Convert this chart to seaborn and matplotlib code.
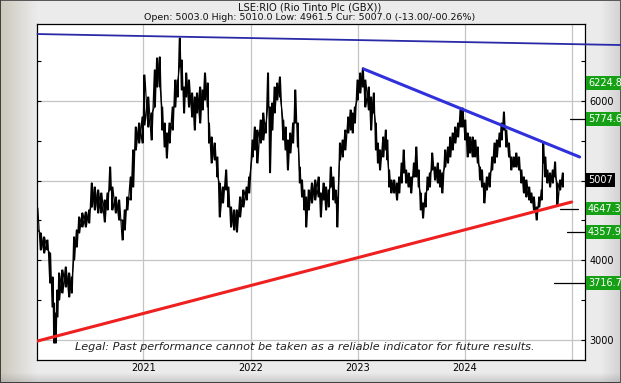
import numpy as np
import pandas as pd
import matplotlib
matplotlib.use("Agg")
import matplotlib.pyplot as plt
import matplotlib.transforms as mtransforms
from matplotlib.ticker import FixedLocator, FixedFormatter, NullFormatter
import seaborn as sns

# ---------------- data (decimal years, GBX) ----------------
t_2020 = [0.009, 0.040, 0.072, 0.103, 0.128, 0.150, 0.165, 0.180, 0.196, 0.212,
          0.243, 0.274, 0.306, 0.330, 0.352, 0.377, 0.399, 0.430, 0.461, 0.493,
          0.517, 0.545, 0.577, 0.607, 0.638, 0.664, 0.689, 0.710, 0.741, 0.773,
          0.804, 0.825, 0.850, 0.881, 0.904, 0.928, 0.960, 0.991]
hi_2020 = [4657, 4343, 4293, 4255, 4092, 3791, 3464, 3339, 3628, 3841,
           3879, 3916, 3841, 3791, 4293, 4381, 4544, 4594, 4607, 4632,
           4970, 4920, 4883, 4845, 4757, 4845, 5171, 4920, 4795, 4757,
           4506, 4632, 4795, 5046, 5385, 5673, 5723, 5799]
lo_2020 = [4381, 4130, 4092, 4130, 3715, 3414, 2962, 2962, 3289, 3502,
           3590, 3665, 3540, 3590, 4004, 4167, 4343, 4418, 4418, 4468,
           4669, 4632, 4594, 4594, 4481, 4632, 4883, 4632, 4594, 4506,
           4255, 4381, 4632, 4757, 4920, 5385, 5472, 5472]

t_2021 = [1.009, 1.045, 1.075, 1.106, 1.127, 1.152, 1.175, 1.197, 1.218, 1.243,
          1.273, 1.297, 1.318, 1.339, 1.357, 1.379, 1.400, 1.425, 1.455, 1.479,
          1.500, 1.530, 1.552, 1.575, 1.600, 1.612, 1.636, 1.666, 1.691, 1.712,
          1.743, 1.773, 1.794, 1.818, 1.848, 1.873, 1.903, 1.934, 1.964, 1.988]
hi_2021 = [6326, 6050, 5849, 6389, 6539, 6552, 5924, 5723, 5598, 5723,
           5924, 6263, 6263, 6790, 6514, 6175, 6351, 6263, 6100, 6050,
           6100, 6175, 6138, 6351, 6225, 5723, 5548, 5472, 5297, 4970,
           4920, 5134, 4920, 4669, 4632, 4632, 4795, 4883, 4920, 5046]
lo_2021 = [5698, 5673, 5510, 5924, 6175, 6175, 5635, 5422, 5284, 5472,
           5635, 5924, 6050, 6426, 6138, 5849, 6050, 5924, 5799, 5635,
           5849, 5723, 5887, 6012, 5924, 5472, 5221, 5259, 5046, 4544,
           4720, 4883, 4669, 4418, 4381, 4355, 4544, 4669, 4757, 4845]

t_2022 = [2.019, 2.040, 2.065, 2.095, 2.120, 2.142, 2.164, 2.182, 2.204, 2.225,
          2.250, 2.275, 2.306, 2.327, 2.349, 2.373, 2.398, 2.419, 2.442, 2.460,
          2.481, 2.503, 2.521, 2.544, 2.574, 2.605, 2.636, 2.657, 2.682, 2.706,
          2.729, 2.750, 2.775, 2.794, 2.812, 2.836, 2.861, 2.886, 2.914, 2.935,
          2.954, 2.975]
hi_2022 = [5510, 5673, 5635, 5761, 5849, 5723, 6351, 5924, 5974, 6175,
           6225, 6301, 5761, 5673, 5510, 5598, 5723, 6138, 5723, 5171,
           5008, 4883, 4795, 4883, 4970, 5008, 5046, 4845, 4970, 4920,
           4883, 5171, 5046, 4883, 4795, 5472, 5510, 5635, 5799, 5887,
           5849, 5924]
lo_2022 = [5297, 5385, 5221, 5472, 5510, 5598, 5924, 5100, 5635, 5849,
           6012, 6050, 5510, 5385, 5134, 5347, 5472, 5723, 5422, 4970,
           4795, 4632, 4418, 4632, 4720, 4757, 4795, 4544, 4757, 4632,
           4669, 4920, 4757, 4720, 4418, 5259, 5297, 5385, 5598, 5635,
           5598, 5723]

t_2023 = [3.000, 3.026, 3.050, 3.073, 3.105, 3.127, 3.152, 3.171, 3.190, 3.210,
          3.241, 3.264, 3.279, 3.295, 3.317, 3.343, 3.369, 3.390, 3.412, 3.431,
          3.454, 3.476, 3.502, 3.527, 3.550, 3.571, 3.590, 3.612, 3.635, 3.654,
          3.676, 3.698, 3.724, 3.750, 3.771, 3.793, 3.819, 3.845, 3.867, 3.889,
          3.914, 3.940, 3.962, 3.981]
hi_2023 = [6263, 6351, 6414, 6263, 6175, 6050, 6100, 5723, 5472, 5385,
           5548, 5635, 5510, 5134, 5008, 5008, 4970, 5046, 5221, 5385,
           5134, 5096, 5046, 5221, 5422, 5134, 4845, 4720, 4845, 5046,
           5096, 5347, 5171, 5221, 5134, 5096, 5385, 5422, 5548, 5598,
           5673, 5723, 5887, 5912]
lo_2023 = [6012, 6100, 6175, 5924, 5887, 5635, 5849, 5385, 5221, 5134,
           5297, 5385, 5259, 4920, 4845, 4845, 4757, 4845, 4970, 5096,
           4970, 4920, 4845, 5046, 5046, 4920, 4632, 4531, 4669, 4883,
           4920, 5134, 5008, 4970, 4920, 4845, 5171, 5221, 5297, 5385,
           5472, 5548, 5673, 5673]

t_2024 = [4.007, 4.028, 4.050, 4.075, 4.101, 4.123, 4.144, 4.163, 4.186, 4.208,
          4.233, 4.258, 4.280, 4.302, 4.327, 4.346, 4.368, 4.390, 4.415, 4.437,
          4.459, 4.484, 4.509, 4.531, 4.554, 4.578, 4.604, 4.625, 4.648, 4.673,
          4.698, 4.720, 4.736, 4.755, 4.774, 4.799, 4.824, 4.846, 4.868, 4.893,
          4.918]
hi_2024 = [5761, 5598, 5548, 5548, 5510, 5422, 5171, 5134, 4970, 5046,
           5096, 5297, 5472, 5510, 5598, 5723, 5861, 5635, 5472, 5297,
           5297, 5347, 5297, 5134, 5046, 5008, 4920, 4845, 4795, 4669,
           4795, 4883, 5472, 5297, 5134, 5096, 5134, 5234, 4970, 5008,
           5096]
lo_2024 = [5510, 5297, 5347, 5297, 5297, 5221, 5008, 4920, 4720, 4883,
           4920, 5134, 5221, 5297, 5422, 5510, 5635, 5422, 5297, 5134,
           5171, 5171, 5134, 4970, 4845, 4795, 4757, 4720, 4632, 4506,
           4669, 4757, 5221, 5046, 4970, 4920, 4970, 5046, 4694, 4883,
           4920]

# trend lines (decimal year, price)
top_line_t = [2020.009, 2025.462]
top_line_v = [6840, 6702]
down_line_t = [2023.057, 2025.075]
down_line_v = [6401, 5297]
up_line_t = [2020.009, 2025.0]
up_line_v = [2987, 4732]

# target levels on the right
target_levels = [6224.8, 5774.6, 4647.3, 4357.9, 3716.7]
target_mark_from = [None, 2024.981, 2024.887, 2024.953, 2024.840]
target_mark_to = [None, 2025.125, 2025.057, 2025.125, 2025.125]
current_price = 5007

y_major = [3000, 4000, 5000, 6000]
y_major_labels = ["3000", "4000", "", "6000"]
y_minor = [3500, 4500, 5500, 6500]
year_ticks = [2021, 2022, 2023, 2024, 2025]
year_labels = ["2021", "2022", "2023", "2024", ""]

title = "LSE:RIO (Rio Tinto Plc (GBX))"
subtitle = "Open: 5003.0 High: 5010.0 Low: 4961.5 Cur: 5007.0 (-13.00/-00.26%)"
legal = "Legal: Past performance cannot be taken as a reliable indicator for future results."

# ---------------- build frame ----------------
price = pd.DataFrame({
    "t": 2020 + np.array(t_2020 + t_2021 + t_2022 + t_2023 + t_2024),
    "high": hi_2020 + hi_2021 + hi_2022 + hi_2023 + hi_2024,
    "low": lo_2020 + lo_2021 + lo_2022 + lo_2023 + lo_2024,
})

sns.set_theme(style="white")
plt.rcParams["font.family"] = ["DejaVu Sans"]

W, H = 621, 383
fig = plt.figure(figsize=(W / 100, H / 100), dpi=100)

# background with bevelled grey frame
bg = np.ones((H, W, 3)) * 0.925
xs = np.arange(W)[None, :, None]
ys = np.arange(H)[:, None, None]
left_col = np.array([0.80, 0.785, 0.74])
fl = np.clip(1 - xs / 37.0, 0, 1)
bg = bg * (1 - fl) + left_col * fl
fr = np.clip((xs - 600) / 21.0, 0, 1)
bg = bg * (1 - 0.35 * fr) + np.array([0.62, 0.62, 0.62]) * 0.35 * fr
fb = np.clip((ys - 372) / 11.0, 0, 1)
bg = bg * (1 - 0.4 * fb) + np.array([0.55, 0.55, 0.55]) * 0.4 * fb
bg[0, :, :] = 0.35
bg[-1, :, :] = 0.25
bg[:, 0, :] = 0.25
bg[:, -1, :] = 0.35
bg_ax = fig.add_axes([0, 0, 1, 1], zorder=-5)
bg_ax.imshow(bg, aspect="auto", interpolation="bilinear")
bg_ax.axis("off")

ax = fig.add_axes([37 / W, 23 / H, 548 / W, 336 / H])
ax.set_facecolor("white")
ax.set_xlim(2020.005, 2025.125)
ax.set_ylim(2749, 6966)

# grid
ax.xaxis.set_major_locator(FixedLocator(year_ticks))
ax.xaxis.set_major_formatter(FixedFormatter(year_labels))
ax.yaxis.set_major_locator(FixedLocator(y_major))
ax.yaxis.set_major_formatter(FixedFormatter(y_major_labels))
ax.yaxis.set_minor_locator(FixedLocator(y_minor))
ax.yaxis.set_minor_formatter(NullFormatter())
ax.grid(True, which="major", color="#c4c4c4", linewidth=0.9)
ax.set_axisbelow(True)

# price bars: high-low bars plus a zig-zag trace between highs and lows
tt = price["t"].to_numpy()
hh = price["high"].to_numpy()
ll = price["low"].to_numpy()
ax.vlines(tt, ll, hh, color="black", linewidth=1.4, zorder=3)
zig_t = np.column_stack([tt - 0.004, tt + 0.004]).ravel()
zig_v = np.column_stack([hh, ll]).ravel()
ax.plot(zig_t, zig_v, color="black", linewidth=0.9, zorder=3)
zag_v = np.column_stack([ll, hh]).ravel()
ax.plot(zig_t, zag_v, color="black", linewidth=0.8, zorder=3)

# trend lines via seaborn
sns.lineplot(x=top_line_t, y=top_line_v, ax=ax, color="#2a2aa8", linewidth=1.3,
             zorder=4)
ax.lines[-1].set_clip_on(False)
sns.lineplot(x=down_line_t, y=down_line_v, ax=ax, color="#3030dd", linewidth=2.2,
             zorder=4)
sns.lineplot(x=up_line_t, y=up_line_v, ax=ax, color="#ee2020", linewidth=2.2,
             zorder=4)

# target marker lines
for lvl, a, b in zip(target_levels, target_mark_from, target_mark_to):
    if a is not None:
        ax.plot([a, b], [lvl, lvl], color="black", linewidth=0.9,
                clip_on=False, zorder=5)

# ticks
for s in ax.spines.values():
    s.set_color("black")
    s.set_linewidth(0.9)
ax.tick_params(axis="y", which="both", left=True, right=True, direction="in",
               labelleft=False, labelright=True, length=3, width=0.8,
               labelsize=7, pad=3, colors="black")
ax.tick_params(axis="x", which="both", bottom=False, top=False, labelsize=7,
               pad=-3.5, colors="black")
for lab in ax.get_yticklabels():
    lab.set_horizontalalignment("left")

# right-side level labels
trans = mtransforms.blended_transform_factory(ax.transAxes, ax.transData)
for lvl in target_levels:
    ax.text(1.0 + 3 / 548, lvl, f"{lvl:.1f}", transform=trans, ha="left",
            va="center", fontsize=7, color="white", clip_on=False, zorder=6,
            bbox=dict(boxstyle="square,pad=0.18", fc="#16a016", ec="none"))
ax.text(1.0 + 3 / 548, current_price, f"{current_price}", transform=trans,
        ha="left", va="center", fontsize=7, color="white", clip_on=False,
        zorder=6, bbox=dict(boxstyle="square,pad=0.18", fc="black", ec="none"))

# legal note
ax.text(0.489, 0.04, legal, transform=ax.transAxes, ha="center", va="center",
        fontsize=8.1, style="italic", color="#222222", zorder=6)

# titles
fig.text(310 / W, 1 - 7 / H, title, ha="center", va="center", fontsize=7.2,
         color="#111111")
fig.text(310 / W, 1 - 18 / H, subtitle, ha="center", va="center", fontsize=6.8,
         color="#111111")

fig.savefig("out.png", dpi=100)
